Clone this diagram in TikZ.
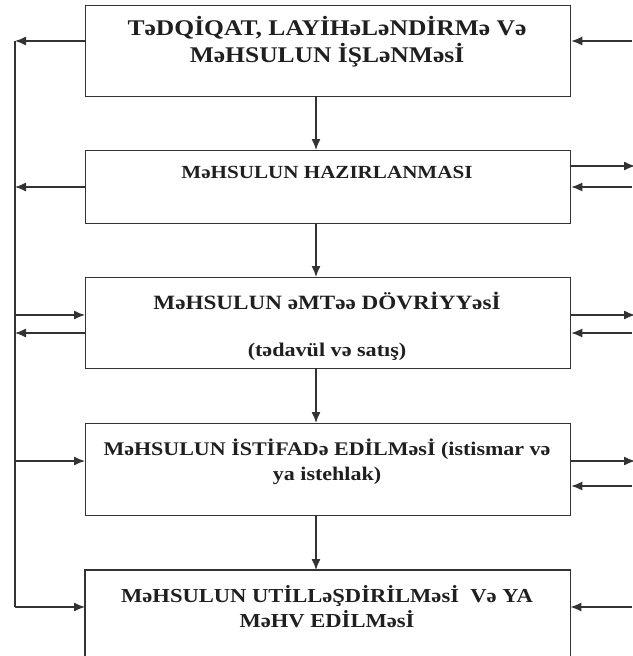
\documentclass[tikz,border=0pt]{standalone}
\usepackage{fontspec}
\setmainfont{Liberation Serif}[FakeStretch=1.14]
\usetikzlibrary{arrows.meta}
\newcommand{\fsz}[1]{\fontsize{#1}{#1}\selectfont}
\begin{document}
\begin{tikzpicture}[x=1pt,y=-1pt,
  box/.style={draw=black!80,line width=1.3pt,minimum width=485pt,inner sep=0pt,anchor=north west},
  lbl/.style={font=\bfseries,inner sep=0pt,text=black!88,anchor=base},
  arr/.style={line width=1.3pt,draw=black!80,-{Latex[length=11pt,width=9pt]}},
  ln/.style={line width=1.3pt,draw=black!80}]
\useasboundingbox (0,0) rectangle (632,656);
% boxes
\node[box,minimum height=91pt] (b1) at (85,5) {};
\node[box,minimum height=73pt] (b2) at (85,150) {};
\node[box,minimum height=91pt] (b3) at (85,277) {};
\node[box,minimum height=92pt] (b4) at (85,423) {};
\node[inner sep=0pt,minimum width=485pt,minimum height=92pt,anchor=north west] (b5) at (85,570) {};
\draw[ln] (b5.south west) -- (b5.north west) -- (b5.north east) -- (b5.south east);
% labels (base line positions)
\node[lbl,font=\bfseries\fsz{22.4}] (t1a) at (327,35) {TəDQİQAT, LAYİHəLəNDİRMə Və};
\node[lbl,font=\bfseries\fsz{22.4}] (t1b) at (327,62) {MəHSULUN İŞLəNMəsİ};
\node[lbl,font=\bfseries\fsz{18.5}] (t2) at (327,178) {MəHSULUN HAZIRLANMASI};
\node[lbl,font=\bfseries\fsz{20.3}] (t3a) at (327,309) {MəHSULUN əMTəə DÖVRİYYəsİ};
\node[lbl,font=\bfseries\fsz{19.4}] (t3b) at (327,356) {(tədavül və satış)};
\node[lbl,font=\bfseries\fsz{19.3}] (t4a) at (327,455) {MəHSULUN İSTİFADə EDİLMəsİ (istismar və};
\node[lbl,font=\bfseries\fsz{19.3}] (t4b) at (327,480) {ya istehlak)};
\node[lbl,font=\bfseries\fsz{19.8}] (t5a) at (327,602) {MəHSULUN UTİLLəŞDİRİLMəsİ\ \ Və YA};
\node[lbl,font=\bfseries\fsz{19.8}] (t5b) at (327,627) {MəHV EDİLMəsİ};
% coordinates
\coordinate (cx) at (316,0);
\coordinate (top) at (15,41);
\coordinate (bot) at (15,607);
% vertical flow
\draw[arr] (b1.south -| cx) -- (b2.north -| cx);
\draw[arr] (b2.south -| cx) -- (b3.north -| cx);
\draw[arr] (b3.south -| cx) -- (b4.north -| cx);
\draw[arr] (b4.south -| cx) -- (b5.north -| cx);
% left bus
\draw[ln] (top) -- (bot);
\draw[arr] (b1.west |- top) -- (top);
\coordinate (l2) at (15,187);
\draw[arr] (b2.west |- l2) -- (l2);
\coordinate (l3a) at (15,315);
\coordinate (l3b) at (15,333);
\draw[arr] (l3a) -- (b3.west |- l3a);
\draw[arr] (b3.west |- l3b) -- (l3b);
\coordinate (l4) at (15,461);
\draw[arr] (l4) -- (b4.west |- l4);
\draw[arr] (bot) -- (b5.west |- bot);
% right side
\coordinate (r1) at (632,41);
\draw[arr] (r1) -- (b1.east |- r1);
\coordinate (r2a) at (635,166);
\coordinate (r2b) at (632,187);
\draw[arr] (b2.east |- r2a) -- (r2a);
\draw[arr] (r2b) -- (b2.east |- r2b);
\coordinate (r3a) at (635,315);
\coordinate (r3b) at (632,333);
\draw[arr] (b3.east |- r3a) -- (r3a);
\draw[arr] (r3b) -- (b3.east |- r3b);
\coordinate (r4a) at (635,461);
\coordinate (r4b) at (632,486);
\draw[arr] (b4.east |- r4a) -- (r4a);
\draw[arr] (r4b) -- (b4.east |- r4b);
\coordinate (r5) at (632,607);
\draw[arr] (r5) -- (b5.east |- r5);
\end{tikzpicture}
\end{document}
